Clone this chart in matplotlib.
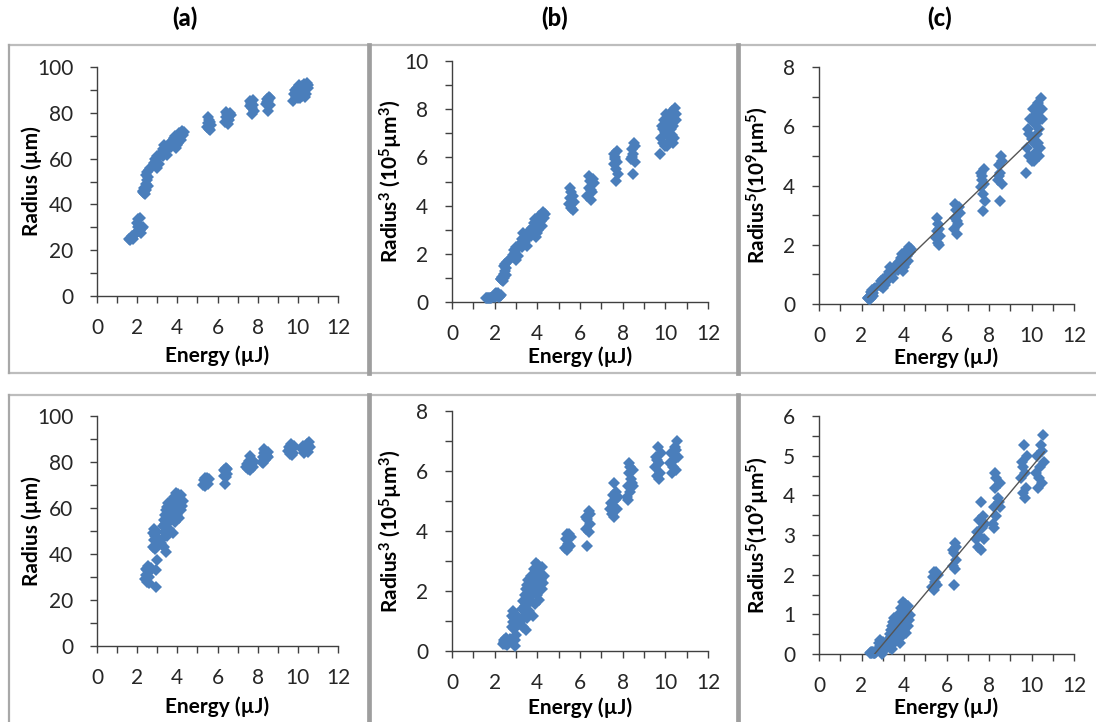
import numpy as np
import matplotlib
matplotlib.use("Agg")
import matplotlib.pyplot as plt
from matplotlib.lines import Line2D
from matplotlib.ticker import MultipleLocator

plt.rcParams["font.family"] = ["Lato", "DejaVu Sans"]
plt.rcParams["mathtext.fontset"] = "custom"
plt.rcParams["mathtext.rm"] = "Lato"
plt.rcParams["mathtext.bf"] = "Lato:bold"
plt.rcParams["mathtext.default"] = "bf"

# ---- data: energy (uJ) and radius (um) ----
# top row
energy_top = [
    1.6, 1.65, 1.7, 1.75, 1.8, 1.85, 1.9,
    2.0, 2.05, 2.0, 2.05, 2.1, 2.1, 2.15, 2.2, 2.25, 2.3, 2.15,
    2.3, 2.3, 2.35, 2.4, 2.45, 2.35,
    2.45, 2.5, 2.55, 2.5, 2.6, 2.45, 2.65, 2.55,
    2.85, 2.9, 2.95, 3.0, 3.0, 3.1, 3.15, 3.05, 2.9,
    3.25, 3.3, 3.35, 3.4, 3.45, 3.5, 3.55, 3.3, 3.6,
    3.7, 3.75, 3.8, 3.85, 3.9, 3.95, 4.0, 4.05, 4.1, 4.15, 4.2, 4.25, 4.3, 4.35, 4.0, 3.9, 4.2,
    5.5, 5.55, 5.6, 5.6, 5.65, 5.7, 5.55, 5.65,
    6.35, 6.4, 6.45, 6.5, 6.55, 6.6, 6.4, 6.65, 6.5,
    7.6, 7.65, 7.7, 7.7, 7.75, 7.8, 7.65, 7.75, 7.6,
    8.4, 8.45, 8.5, 8.5, 8.55, 8.6, 8.45, 8.6,
    9.75, 9.8, 9.85, 9.9, 9.95, 10.0, 10.0, 10.05, 10.1, 10.15, 10.2, 10.2,
    10.25, 10.3, 10.35, 10.4, 10.45, 10.5, 10.5, 10.35, 10.1, 9.9, 10.3, 10.4,
]
radius_top = [
    25, 24.5, 25.5, 26, 25, 26.5, 27,
    28, 30, 32, 33.5, 31, 28.5, 29, 27.5, 29.5, 30, 34,
    45.5, 46, 45, 44.5, 46.5, 47,
    49, 50.5, 52, 54, 55, 53, 56, 48,
    58, 60, 59, 56, 61, 57.5, 62, 60.5, 57,
    62, 64, 66, 63, 65, 61.5, 64.5, 61, 66.5,
    65, 67.5, 66, 69, 68, 64.5, 70, 67, 71, 69.5, 68, 72, 70.5, 71.5, 66, 70, 70,
    74, 75.5, 77, 73, 76, 74.5, 78, 72.5,
    76, 78, 79.5, 75, 77, 80, 80.5, 79, 77.5,
    83, 84.5, 79.4, 82, 85.5, 81, 84, 83.5, 85,
    84, 86, 81, 85, 87, 83.5, 84.5, 86.5,
    85, 88, 90, 87, 91, 89, 86.5, 92, 88.5, 90.5, 87.5, 91.5,
    89.5, 92.5, 90, 88, 93, 91, 92, 87, 86.5, 89.5, 88.5, 91,
]
# the first 18 top-row shots (lowest energies) are left out of panel (c)
n_skip_top_c = 18

# bottom row
energy_bot = [
    2.4, 2.45, 2.5, 2.5, 2.55, 2.6, 2.65, 2.6, 2.7, 2.45,
    2.95, 2.95, 3.0,
    2.8, 2.85, 2.85, 2.9, 2.95, 3.0, 2.9, 3.0, 2.8,
    3.2, 3.3, 3.35, 3.45, 3.5, 3.4,
    3.3, 3.35, 3.4, 3.45, 3.5, 3.5, 3.55, 3.6, 3.6, 3.65, 3.7, 3.7, 3.75, 3.8, 3.8, 3.85, 3.85,
    3.9, 3.9, 3.95, 4.0, 4.0, 4.05, 4.05, 4.1, 4.1, 4.15, 4.2, 4.25, 4.3, 4.2, 3.95, 3.4, 3.55,
    5.3, 5.35, 5.4, 5.45, 5.5, 5.55, 5.6, 5.4,
    6.3, 6.35, 6.35, 6.4, 6.45, 6.4, 6.3, 6.45,
    7.4, 7.45, 7.5, 7.55, 7.6, 7.6, 7.65, 7.7, 7.75, 7.8, 7.55,
    8.2, 8.25, 8.3, 8.3, 8.35, 8.4, 8.45, 8.5, 8.25, 8.35, 8.5,
    9.5, 9.55, 9.6, 9.65, 9.7, 9.75, 9.8, 9.6, 9.7,
    10.2, 10.25, 10.3, 10.4, 10.45, 10.5, 10.55, 10.6, 10.5, 10.35,
]
radius_bot = [
    29, 31, 33, 28, 35, 30, 32.5, 27.5, 34, 33.5,
    25.5, 33, 37.5,
    43, 46, 51, 48, 44, 49.5, 42, 46.5, 49,
    45, 47, 43, 41, 48, 49.5,
    52, 55, 57, 59, 54, 60.5, 56, 58, 51, 61, 55, 63, 57.5, 60, 49, 62, 65,
    58, 54, 61.5, 63.5, 57, 66, 60, 64, 55.5, 62, 59, 61, 63, 65.5, 66.5, 53, 62,
    70, 72, 69.5, 71, 73, 70.5, 72.5, 73,
    74, 76, 70.5, 77.5, 75, 73.5, 76.5, 77,
    78, 79, 77, 80.5, 82.5, 76.5, 79.5, 81, 78, 80, 78.5,
    80, 82, 84, 85.5, 81, 83, 82.5, 84.5, 79.5, 85, 82,
    85, 86.5, 83.5, 88, 85.5, 84, 87, 86, 83,
    85.5, 87, 84, 86, 88, 84.5, 88.8, 86.5, 87.5, 85,
]

titles = ["(a)", "(b)", "(c)"]
ylabels = [
    "Radius (µm)",
    "Radius$^3$ (10$^5$µm$^3$)",
    "Radius$^5$(10$^9$µm$^5$)",
]

W, H = 1096, 722
fig = plt.figure(figsize=(W / 100, H / 100), dpi=100)
blue = "#4A7EBB"


def add_px_axes(left, top, right, bottom):
    return fig.add_axes([left / W, 1 - bottom / H, (right - left) / W, (bottom - top) / H])


def style_axes(ax, ymax, ymaj, ymin_step):
    ax.set_xlim(0, 12)
    ax.set_ylim(0, ymax)
    ax.xaxis.set_major_locator(MultipleLocator(2))
    ax.xaxis.set_minor_locator(MultipleLocator(1))
    ax.yaxis.set_major_locator(MultipleLocator(ymaj))
    ax.yaxis.set_minor_locator(MultipleLocator(ymin_step))
    for s in ["top", "right"]:
        ax.spines[s].set_visible(False)
    for s in ["left", "bottom"]:
        ax.spines[s].set_color("#404040")
        ax.spines[s].set_linewidth(1.0)
    ax.tick_params(which="both", direction="out", length=5, width=1, color="#404040")
    ax.tick_params(axis="x", which="major", labelsize=15, labelcolor="#262626", pad=11)
    ax.tick_params(axis="y", which="major", labelsize=15, labelcolor="#262626", pad=12)
    ax.patch.set_alpha(0)


def fit_line(ax, e, v):
    k, b = np.polyfit(e, v, 1)
    xs = np.array([min(e), max(e)])
    ax.plot(xs, k * xs + b, color="#555555", lw=1.0, zorder=5)


rows = [
    (np.array(energy_top), np.array(radius_top), n_skip_top_c,
     [(97, 67, 338, 296), (452, 61, 708, 302), (819, 67, 1074, 304)],
     [(100, 20, 10), (10, 2, 1), (8, 2, 1)],
     [-0.262, -0.228, -0.228]),
    (np.array(energy_bot), np.array(radius_bot), 0,
     [(97, 416, 338, 646), (452, 411, 708, 651), (819, 416, 1074, 654)],
     [(100, 20, 10), (8, 2, 1), (6, 1, 0.5)],
     [-0.265, -0.2375, -0.227]),
]

for energy, radius, skip, boxes, ticks, xl_y in rows:
    r3 = radius ** 3 / 1e5
    r5 = radius ** 5 / 1e9
    series = [(energy, radius), (energy, r3), (energy[skip:], r5[skip:])]
    for i in range(3):
        ax = add_px_axes(*boxes[i])
        style_axes(ax, *ticks[i])
        e, v = series[i]
        ax.plot(e, v, linestyle="none", marker="D", ms=5.8, mew=0,
                color=blue, clip_on=False, zorder=4)
        if i == 2:
            fit_line(ax, e, v)
        ax.text(0.5, xl_y[i], "Energy (µJ)", transform=ax.transAxes,
                ha="center", va="center", fontsize=15, fontweight="bold")
        ylx = -0.27 if i == 0 else -0.236
        ax.text(ylx, 0.5, ylabels[i], transform=ax.transAxes, rotation=90,
                ha="center", va="center", fontsize=15, fontweight="bold")

for x, t in zip([185, 555, 940], titles):
    fig.text(x / W, 1 - 18 / H, t, ha="center", va="center",
             fontsize=17, fontweight="black")


# grey chart-box borders
def px_line(xs, ys, color, lw):
    fig.add_artist(Line2D([x / W for x in xs], [1 - y / H for y in ys],
                          color=color, lw=lw, transform=fig.transFigure))


for top, bot in [(45, 373), (395, 723)]:
    px_line([9, W], [top, top], "#BDBDBD", 1.6)
    if bot < H:
        px_line([9, W], [bot, bot], "#BDBDBD", 1.6)
    px_line([9, 9], [top, bot], "#A8A8A8", 1.6)
    for xv in [368.5, 737.5]:
        px_line([xv, xv], [top, bot], "#9E9E9E", 3.4)

fig.savefig("out.png", dpi=100)
